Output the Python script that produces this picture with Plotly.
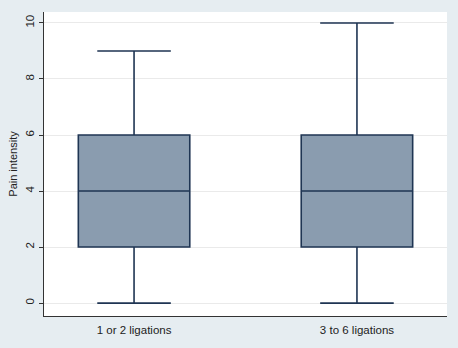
import plotly.graph_objects as go

# Five-number summaries of pain intensity per ligation group
groups = ["1 or 2 ligations", "3 to 6 ligations"]
minimum = [0, 0]
q1 = [2, 2]
median = [4, 4]
q3 = [6, 6]
maximum = [9, 10]
y_ticks = [0, 2, 4, 6, 8, 10]

fill = "#8a9caf"
edge = "#1f3553"

fig = go.Figure()
for i, g in enumerate(groups):
    fig.add_trace(go.Box(
        x=[i], q1=[q1[i]], median=[median[i]], q3=[q3[i]],
        lowerfence=[minimum[i]], upperfence=[maximum[i]],
        width=0.5, whiskerwidth=0.66,
        fillcolor=fill, line=dict(color=edge, width=1.6),
        boxpoints=False, showlegend=False, hoverinfo="skip",
    ))

fig.update_layout(
    width=458, height=348,
    margin=dict(l=44, r=11, t=12, b=32),
    paper_bgcolor="#e6edf1",
    plot_bgcolor="#ffffff",
    font=dict(family="Liberation Sans, Arial, sans-serif", size=11.5, color="#222222"),
)
fig.update_xaxes(
    range=[-0.404, 1.404],
    tickmode="array", tickvals=[0, 1], ticktext=groups,
    showgrid=False, zeroline=False,
    showline=True, linecolor="#333333", linewidth=1,
    ticks="", ticklabelstandoff=3,
)
fig.update_yaxes(
    range=[-0.46, 10.39],
    tickvals=y_ticks, tickangle=-90,
    showgrid=True, gridcolor="#eaeaea", gridwidth=1,
    zeroline=False,
    showline=True, linecolor="#333333", linewidth=1,
    ticks="outside", ticklen=4, tickcolor="#333333",
    title=dict(text="Pain intensity", font=dict(size=11), standoff=4),
)

fig.write_html("out.html")
